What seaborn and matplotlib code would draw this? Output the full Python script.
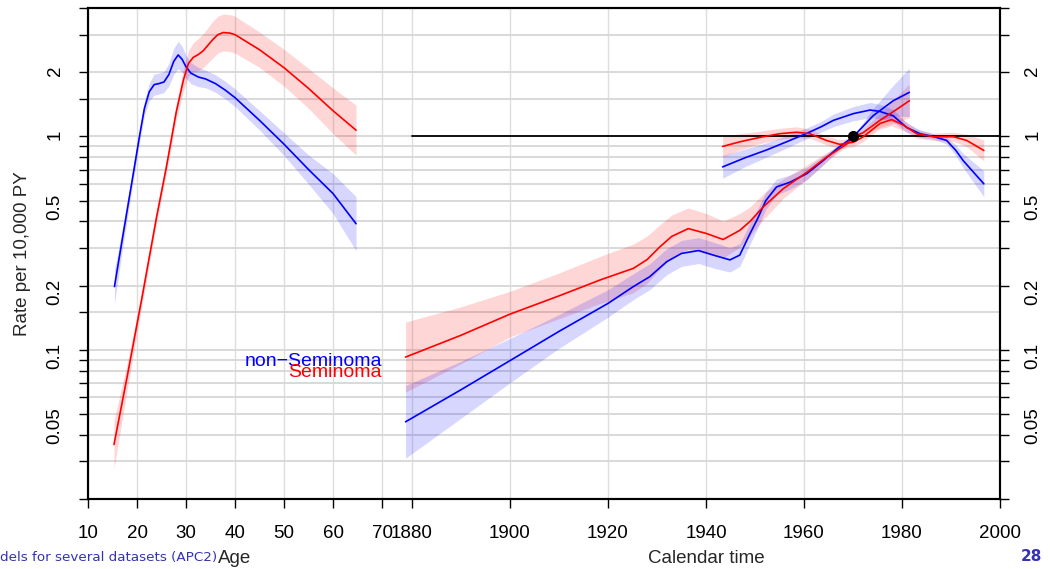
import numpy as np
import pandas as pd
import matplotlib
matplotlib.use('Agg')
from matplotlib import pyplot as plt
from matplotlib.ticker import NullLocator
import seaborn as sns

sns.set_theme(style='white')
plt.rcParams['font.family'] = ['Liberation Sans', 'DejaVu Sans']

# ---- data ----
# age effects, rate per 10,000 PY ; ci = multiplicative half-width of band
age_nsem = [15.4, 17, 19, 20.5, 21.5, 22.5, 23.5, 24.5, 25.5, 26.5, 27.5, 28.4, 29.2,
            30, 31, 32.5, 34, 36, 38, 40, 45, 50, 55, 60, 64.7]
rate_nsem = [0.198, 0.33, 0.62, 1.0, 1.35, 1.62, 1.75, 1.77, 1.8, 1.95, 2.25, 2.41, 2.3,
             2.12, 1.98, 1.9, 1.86, 1.77, 1.65, 1.52, 1.19, 0.92, 0.7, 0.54, 0.39]
ci_age_nsem = [1.2, 1.12, 1.08, 1.07, 1.08, 1.1, 1.12, 1.12, 1.12, 1.13, 1.15, 1.16, 1.15,
               1.13, 1.12, 1.11, 1.1, 1.1, 1.1, 1.1, 1.11, 1.13, 1.17, 1.24, 1.34]

age_sem = [15.3, 18, 21, 24, 26, 28, 29.5, 30.5, 31.5, 32.5, 33.5, 34.5, 35.5, 36.5,
           37.6, 39, 40, 45, 50, 55, 60, 64.7]
rate_sem = [0.036, 0.075, 0.175, 0.42, 0.72, 1.3, 1.85, 2.2, 2.35, 2.42, 2.52, 2.68, 2.85,
            3.0, 3.07, 3.05, 3.0, 2.55, 2.1, 1.68, 1.32, 1.07]
ci_age_sem = [1.3, 1.15, 1.08, 1.07, 1.07, 1.09, 1.12, 1.15, 1.17, 1.19, 1.2, 1.21, 1.22,
              1.22, 1.22, 1.22, 1.22, 1.21, 1.22, 1.24, 1.28, 1.31]

# period effects (RR)
per_nsem = [1943.4, 1948, 1952.4, 1956.5, 1960.6, 1963.5, 1966, 1970.1, 1973.5, 1975.5,
            1978.2, 1981, 1983.7, 1986.4, 1989.1, 1991, 1992.5, 1996.7]
rr_per_nsem = [0.72, 0.795, 0.865, 0.945, 1.035, 1.11, 1.19, 1.28, 1.33, 1.31,
               1.25, 1.10, 1.03, 1.0, 0.958, 0.86, 0.77, 0.60]
ci_per_nsem = [1.13, 1.1, 1.08, 1.07, 1.06, 1.06, 1.07, 1.08, 1.085, 1.08,
               1.07, 1.05, 1.04, 1.03, 1.04, 1.06, 1.08, 1.15]

per_sem = [1943.4, 1947, 1951, 1955, 1958.5, 1961.2, 1964.6, 1967.3, 1970.1, 1972.1,
           1975.5, 1977.9, 1980.3, 1983, 1986.4, 1990.5, 1993.2, 1996.7]
rr_per_sem = [0.898, 0.945, 0.99, 1.03, 1.047, 1.03, 0.958, 0.918, 0.94, 0.997,
              1.15, 1.2, 1.13, 1.03, 0.997, 0.997, 0.958, 0.86]
ci_per_sem = [1.12, 1.09, 1.07, 1.06, 1.06, 1.05, 1.05, 1.05, 1.05, 1.05,
              1.06, 1.07, 1.06, 1.05, 1.04, 1.05, 1.07, 1.12]

# cohort effects (RR)
coh_nsem = [1878.7, 1890, 1900, 1910, 1920, 1925.2, 1928.5, 1932, 1935, 1938.5, 1941.5,
            1944.9, 1946.9, 1949, 1950.5, 1952.2, 1954.4, 1957.1, 1960.6, 1963.9, 1966.7,
            1970.1, 1974.1, 1978.2, 1981.5]
rr_coh_nsem = [0.046, 0.065, 0.089, 0.122, 0.165, 0.198, 0.22, 0.259, 0.283, 0.292, 0.278,
               0.264, 0.278, 0.351, 0.41, 0.5, 0.58, 0.61, 0.67, 0.77, 0.875,
               1.0, 1.25, 1.47, 1.61]
ci_coh_nsem = [1.48, 1.36, 1.27, 1.2, 1.16, 1.15, 1.15, 1.15, 1.15, 1.15, 1.15,
               1.14, 1.13, 1.12, 1.11, 1.1, 1.09, 1.08, 1.07, 1.05, 1.03,
               1.01, 1.08, 1.18, 1.3]

coh_sem = [1878.7, 1890, 1900, 1910, 1918.5, 1925.2, 1928, 1930.6, 1933, 1936.4, 1940.1,
           1943.5, 1946.9, 1949, 1951.7, 1955.8, 1960.6, 1964.6, 1968.7, 1970.1, 1972,
           1975.5, 1978.5, 1981.5]
rr_coh_sem = [0.0925, 0.117, 0.147, 0.179, 0.213, 0.241, 0.265, 0.304, 0.34, 0.37, 0.351,
              0.329, 0.363, 0.40, 0.468, 0.57, 0.68, 0.80, 0.92, 1.0, 1.04,
              1.19, 1.32, 1.47]
ci_coh_sem = [1.46, 1.36, 1.28, 1.28, 1.29, 1.3, 1.29, 1.27, 1.26, 1.25, 1.24,
              1.22, 1.2, 1.17, 1.15, 1.11, 1.08, 1.05, 1.02, 1.01, 1.03,
              1.08, 1.14, 1.2]

ref_year = 1970
ref_rr = 1

age_ticks = [10, 20, 30, 40, 50, 60, 70]
cal_ticks = [1880, 1900, 1920, 1940, 1960, 1980, 2000]
y_left = [0.02, 0.03, 0.04, 0.05, 0.06, 0.07, 0.08, 0.09, 0.1, 0.15, 0.2, 0.3, 0.4, 0.5,
          0.6, 0.7, 0.8, 0.9, 1, 1.5, 2, 3, 4]
y_right = [0.02, 0.03, 0.04, 0.05, 0.06, 0.07, 0.08, 0.09, 0.1, 0.2, 0.3, 0.4, 0.5,
           0.6, 0.7, 0.8, 0.9, 1, 2, 3, 4]
y_labelled = {0.05: '0.05', 0.1: '0.1', 0.2: '0.2', 0.5: '0.5', 1: '1', 2: '2'}

# age axis sits left of the calendar axis (apc frame)
age_shift = 1880 - 70 - 6.1

colors = {'Seminoma': '#ff0000', 'non-Seminoma': '#0000ff'}

parts = [
    ('age', 'non-Seminoma', np.array(age_nsem) + age_shift, rate_nsem, ci_age_nsem),
    ('age', 'Seminoma', np.array(age_sem) + age_shift, rate_sem, ci_age_sem),
    ('per', 'non-Seminoma', per_nsem, rr_per_nsem, ci_per_nsem),
    ('per', 'Seminoma', per_sem, rr_per_sem, ci_per_sem),
    ('coh', 'non-Seminoma', coh_nsem, rr_coh_nsem, ci_coh_nsem),
    ('coh', 'Seminoma', coh_sem, rr_coh_sem, ci_coh_sem),
]
frames = []
for part, typ, x, y, ci in parts:
    y = np.asarray(y, float)
    ci = np.asarray(ci, float)
    frames.append(pd.DataFrame({'part': part + typ, 'type': typ, 'x': x,
                                'y': y, 'lo': y / ci, 'hi': y * ci}))
df = pd.concat(frames, ignore_index=True)

fig = plt.figure(figsize=(10.5, 5.69), dpi=100)
ax = fig.add_axes([88 / 1050, 1 - 499 / 569, 912 / 1050, 491 / 569])
ax.set_yscale('log')

# bands: red first so blue overlap gives lavender
for typ in ['Seminoma', 'non-Seminoma']:
    for part, d in df[df['type'] == typ].groupby('part', sort=False):
        ax.fill_between(d['x'], d['lo'], d['hi'], color=colors[typ], alpha=0.16,
                        lw=0, zorder=2)

ax.plot([cal_ticks[0], cal_ticks[-1]], [ref_rr, ref_rr], color='black', lw=1.3, zorder=3)

sns.lineplot(data=df, x='x', y='y', hue='type', units='part', estimator=None,
             palette=colors, sort=False, legend=False, lw=1.2, ax=ax, zorder=4)

ax.plot([ref_year], [ref_rr], 'o', color='black', ms=7, zorder=5)

ax.set_xlim(age_ticks[0] + age_shift, cal_ticks[-1])
ax.set_ylim(y_left[0], y_left[-1])

xt = [a + age_shift for a in age_ticks] + cal_ticks
xl = [str(a) for a in age_ticks] + [str(c) for c in cal_ticks]
ax.set_xticks(xt, labels=xl)
ax.set_yticks(y_left, labels=[y_labelled.get(v, '') for v in y_left])
ax.yaxis.set_minor_locator(NullLocator())
ax.set_xlabel('')
ax.set_ylabel('Rate per 10,000 PY', fontsize=13.5)
ax.yaxis.set_label_coords(-0.062, 0.5)

ax.grid(axis='y', color='#d9d9d9', lw=1.4, zorder=0)
ax.grid(axis='x', color='#dedede', lw=1.0, zorder=0)
ax.set_axisbelow(True)

ax.tick_params(axis='both', which='major', direction='out', length=6.5, width=1.0,
               color='black', labelsize=13.5, labelcolor='black', pad=12,
               bottom=True, left=True)
ax.tick_params(axis='y', labelrotation=90, pad=11)

ax2 = ax.twinx()
ax2.set_yscale('log')
ax2.set_ylim(ax.get_ylim())
ax2.set_yticks(y_right, labels=[y_labelled.get(v, '') for v in y_right])
ax2.yaxis.set_minor_locator(NullLocator())
ax2.tick_params(axis='y', direction='out', length=6.5, width=1.0, color='black',
                labelsize=13.5, labelcolor='black', pad=11, right=True, labelrotation=90)
ax2.grid(False)

for a in (ax, ax2):
    for s in a.spines.values():
        s.set_color('black')
        s.set_linewidth(1.5)

# axis titles under each scale
ax.text(40 + age_shift, -0.122, 'Age', transform=ax.get_xaxis_transform(),
        ha='center', va='center', fontsize=13.5)
ax.text(1940, -0.122, 'Calendar time', transform=ax.get_xaxis_transform(),
        ha='center', va='center', fontsize=13.5)

# labels for the two series
ax.text(70 + age_shift, 0.0836, 'non\u2212Seminoma', color=colors['non-Seminoma'],
        ha='right', va='baseline', fontsize=14)
ax.text(70 + age_shift, 0.0748, 'Seminoma', color=colors['Seminoma'],
        ha='right', va='baseline', fontsize=14)

# slide footer remnants
fig.text(217 / 1050, 1 - 561 / 569, 'dels for several datasets (APC2)', color='#3333b3',
         ha='right', va='baseline', fontsize=9.7, family='DejaVu Sans')
fig.text(1021 / 1050, 1 - 561 / 569, '28', color='#3333b3', ha='left', va='baseline',
         fontsize=11, fontweight='bold', family='DejaVu Sans')

fig.savefig('out.png', dpi=100)
